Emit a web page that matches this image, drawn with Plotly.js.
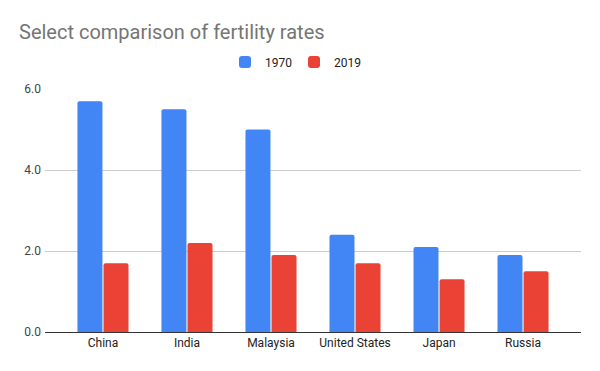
<!DOCTYPE html>
<html>
<head>
<meta charset="utf-8">
<script src="https://cdn.plot.ly/plotly-3.0.1.min.js"></script>
<style>html,body{margin:0;padding:0;background:#fff;}#chart{width:600px;height:371px;}</style>
</head>
<body>
<div id="chart"></div>
<script>
const countries = ["China", "India", "Malaysia", "United States", "Japan", "Russia"];
const rates1970 = [5.7, 5.5, 5.0, 2.4, 2.1, 1.9];
const rates2019 = [1.7, 2.2, 1.9, 1.7, 1.3, 1.5];
const seriesNames = ["1970", "2019"];
const yTicks = [0, 2, 4, 6];

const traces = [
  {type: "bar", name: seriesNames[0], x: countries, y: rates1970,
   marker: {color: "#4285F4", cornerradius: 2}, hoverinfo: "x+y+name"},
  {type: "bar", name: seriesNames[1], x: countries, y: rates2019,
   marker: {color: "#EA4335", cornerradius: 2}, hoverinfo: "x+y+name"}
];

const layout = {
  width: 600, height: 371,
  margin: {l: 45, r: 19, t: 89, b: 39},
  paper_bgcolor: "#fff", plot_bgcolor: "#fff",
  font: {family: "Roboto, Arial, sans-serif", size: 12, color: "#222"},
  title: {text: "Select comparison of fertility rates", xref: "container", yref: "container",
          x: 19/600, xanchor: "left", y: 1 - 32/371, yanchor: "middle",
          font: {family: "Roboto, Arial, sans-serif", size: 20, color: "#757575"}},
  barmode: "group", bargap: 0.38, bargroupgap: 0.04,
  showlegend: true,
  legend: {orientation: "h", xref: "container", yref: "container", x: 0.49, xanchor: "center",
           y: 1 - 62/371, yanchor: "middle", font: {size: 12, color: "#222"},
           itemwidth: 30, entrywidth: 24, entrywidthmode: "pixels", traceorder: "normal"},
  xaxis: {type: "category", range: [-0.69, 5.69], showline: true, linecolor: "#333", linewidth: 1,
          showgrid: false, ticks: "", tickfont: {size: 12, color: "#222"}, fixedrange: true},
  yaxis: {range: [0, 6], tickvals: yTicks, tickformat: ".1f", showgrid: true, gridcolor: "#ccc",
          gridwidth: 1, zeroline: false, showline: false, ticks: "", ticklabelstandoff: 3,
          tickfont: {size: 12, color: "#444"}, fixedrange: true}
};

Plotly.newPlot("chart", traces, layout, {displayModeBar: false, staticPlot: true});
</script>
</body>
</html>
